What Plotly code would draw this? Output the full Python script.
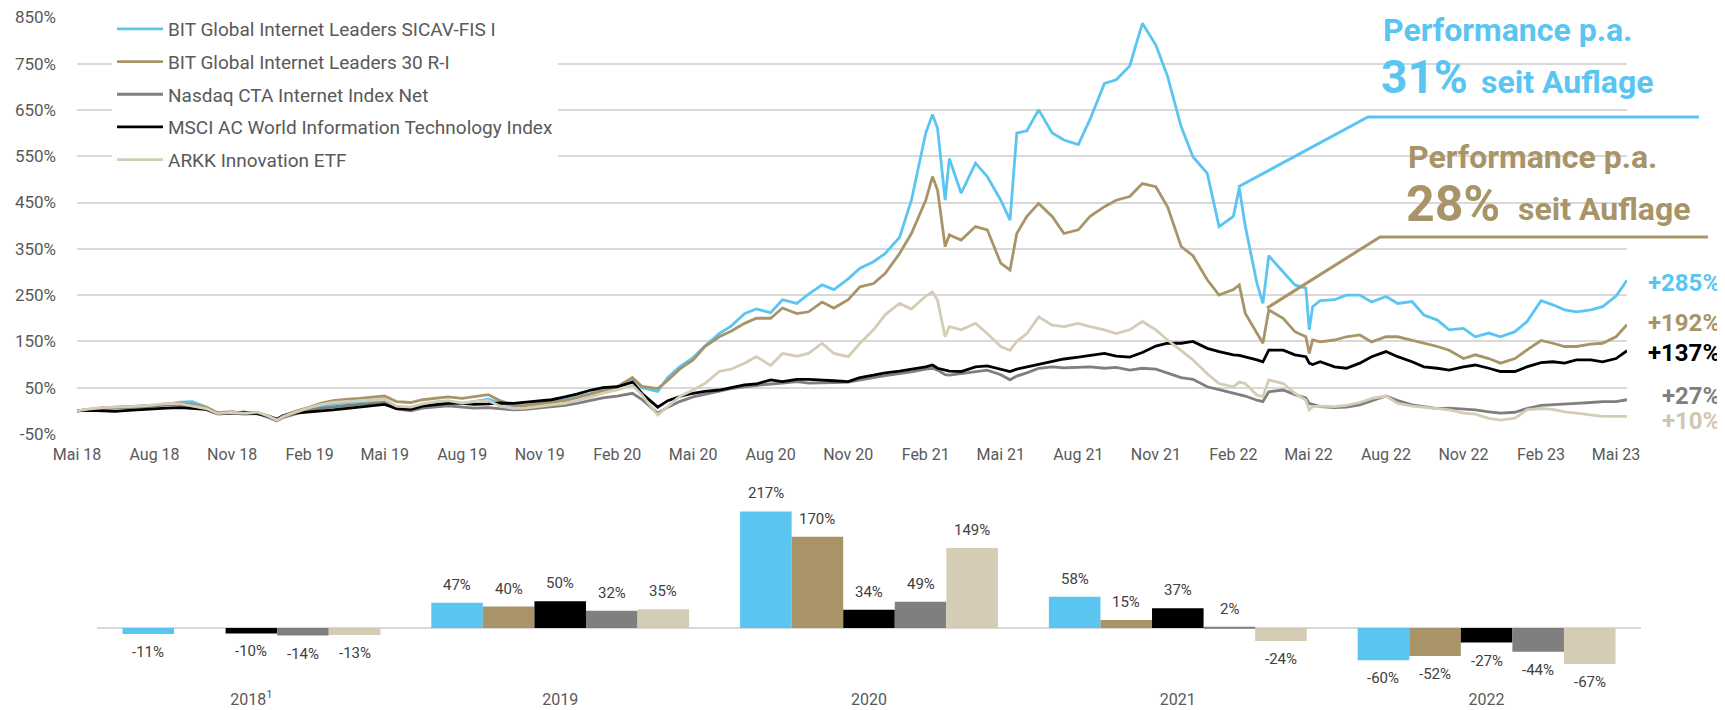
import plotly.graph_objects as go

# the page adds an 8px body margin, so the figure is a bit smaller than the window
OFF = 8
W, H = 1717, 702

# ---- line chart data (cumulative performance in %) ----
dates = [
    "2018-05-01", "2018-05-15", "2018-06-01", "2018-06-15", "2018-07-01", "2018-07-15", "2018-08-01", "2018-08-15",
    "2018-09-01", "2018-09-15", "2018-10-01", "2018-10-15", "2018-11-01", "2018-11-15", "2018-12-01", "2018-12-15",
    "2018-12-24",
    "2019-01-01", "2019-01-15", "2019-02-01", "2019-02-15", "2019-03-01", "2019-03-15", "2019-04-01", "2019-04-15",
    "2019-05-01", "2019-05-15", "2019-06-01", "2019-06-15", "2019-07-01", "2019-07-15", "2019-08-01", "2019-08-15",
    "2019-09-01", "2019-09-15", "2019-10-01", "2019-10-15", "2019-11-01", "2019-11-15", "2019-12-01", "2019-12-15",
    "2020-01-01", "2020-01-15", "2020-02-01", "2020-02-19", "2020-03-01", "2020-03-20", "2020-04-01", "2020-04-15",
    "2020-05-01", "2020-05-15", "2020-06-01", "2020-06-15", "2020-07-01", "2020-07-15", "2020-08-01", "2020-08-15",
    "2020-09-01", "2020-09-15", "2020-10-01", "2020-10-15", "2020-11-01", "2020-11-15", "2020-12-01", "2020-12-15",
    "2021-01-01", "2021-01-15", "2021-02-01", "2021-02-09", "2021-02-15", "2021-02-24", "2021-03-01", "2021-03-15",
    "2021-04-01", "2021-04-15", "2021-05-01", "2021-05-12", "2021-05-20", "2021-06-01", "2021-06-15", "2021-07-01",
    "2021-07-15", "2021-08-01", "2021-08-15", "2021-09-01", "2021-09-15", "2021-10-01", "2021-10-16", "2021-11-01",
    "2021-11-15", "2021-12-01", "2021-12-15",
    "2022-01-01", "2022-01-15", "2022-02-01", "2022-02-08", "2022-02-15", "2022-03-01", "2022-03-08", "2022-03-15",
    "2022-04-01", "2022-04-15", "2022-04-28", "2022-05-02", "2022-05-06", "2022-05-15", "2022-06-01", "2022-06-15",
    "2022-07-01", "2022-07-15", "2022-08-01", "2022-08-15", "2022-09-01", "2022-09-15", "2022-10-01", "2022-10-15",
    "2022-11-01", "2022-11-15", "2022-12-01", "2022-12-15",
    "2023-01-01", "2023-01-15", "2023-02-01", "2023-02-15", "2023-03-01", "2023-03-15", "2023-04-01", "2023-04-15",
    "2023-05-01", "2023-05-14",
]

sicav = [
    0, 3, 6, 7, 8, 10, 12, 14, 19, 20, 8, -5, -3, -6, -4, -12, -20,
    -11, -3, 5, 10, 15, 17, 20, 22, 24, 9, 6, 14, 18, 20, 16, 20, 25, 17, 10, 11, 15, 19, 24, 30,
    38, 45, 52, 70, 50, 42, 72, 95, 115, 140, 167, 183, 210, 220, 212, 240, 232, 252, 272, 262, 285, 308, 322, 340,
    375, 455, 600, 640, 610, 455, 545, 470, 535, 506, 455, 412, 600, 605, 650, 600, 585, 575, 630, 707, 715, 745,
    837, 790, 722, 614, 549,
    513, 398, 420, 482, 400, 275, 232, 335, 300, 272, 265, 175, 225, 238, 240, 250, 250, 235, 247, 232, 236, 207,
    196, 175, 178, 160, 168, 160,
    171, 192, 238, 229, 218, 214, 218, 225, 248, 282,
]

r30 = [
    0, 3, 7, 8, 9, 10, 12, 15, 16, 14, 8, -4, -2, -5, -4, -12, -19,
    -10, -1, 8, 17, 22, 25, 27, 29, 32, 20, 18, 24, 28, 30, 27, 31, 35, 22, 12, 11, 15, 18, 22, 28,
    36, 44, 52, 72, 53, 48, 66, 90, 110, 139, 160, 172, 189, 200, 200, 222, 210, 214, 235, 222, 240, 268, 275, 297,
    340, 383, 455, 506, 477, 355, 380, 369, 398, 391, 319, 304, 383, 420, 448, 420, 383, 391, 420, 441, 455, 463,
    491, 484, 440, 355, 335,
    283, 250, 262, 272, 211, 167, 146, 218, 200, 171, 160, 124, 153, 149, 153, 160, 164, 149, 160, 160, 153, 146,
    139, 131, 113, 121, 113, 103,
    113, 131, 152, 146, 139, 139, 144, 146, 160, 186,
]

nasdaq = [
    0, 3, 5, 6, 6, 8, 10, 13, 13, 9, 4, -7, -5, -7, -6, -15, -22,
    -14, -6, 2, 6, 9, 11, 14, 16, 18, 4, 0, 6, 9, 11, 8, 6, 7, 5, 2, 3, 6, 9, 12, 16,
    22, 28, 32, 38, 25, -5, 8, 20, 30, 36, 42, 48, 52, 55, 58, 60, 63, 60, 60, 61, 62, 67, 72, 76,
    80, 84, 90, 92, 88, 78, 77, 80, 84, 88, 78, 67, 75, 82, 92, 95, 93, 94, 95, 92, 94, 88,
    92, 90, 82, 72, 68,
    52, 46, 38, 36, 32, 23, 20, 41, 45, 35, 28, 16, 14, 9, 7, 8, 13, 22, 32, 22, 13, 9,
    5, 6, 4, 2, -2, -5,
    -3, 5, 12, 13, 15, 16, 18, 20, 20, 24,
]

msci = [
    0, 1, 0, -1, 1, 3, 4, 6, 7, 5, 3, -6, -4, -3, -6, -12, -18,
    -10, -5, -3, 0, 2, 5, 9, 12, 14, 5, 3, 10, 13, 16, 16, 14, 15, 17, 16, 18, 21, 24, 30, 36,
    45, 50, 52, 62, 38, 8, 22, 31, 38, 42, 45, 50, 56, 58, 67, 63, 68, 68, 67, 65, 63, 72, 77, 82,
    86, 90, 95, 99, 92, 88, 86, 85, 95, 97, 90, 85, 90, 95, 100, 107, 112, 116, 120, 124, 118, 116,
    126, 140, 146, 146, 150,
    135, 128, 121, 120, 117, 110, 106, 131, 131, 121, 117, 103, 100, 106, 95, 92, 103, 117, 128, 117, 106, 95,
    92, 88, 95, 99, 92, 85,
    85, 95, 104, 106, 103, 110, 110, 106, 113, 130,
]

arkk = [
    0, 4, 7, 8, 8, 10, 13, 16, 15, 11, 5, -6, -3, -5, -3, -12, -20,
    -12, -3, 7, 14, 18, 20, 22, 24, 25, 10, 8, 15, 20, 22, 17, 20, 22, 10, 5, 6, 9, 13, 16, 22,
    30, 38, 45, 55, 35, -9, 10, 31, 45, 59, 85, 90, 103, 117, 98, 124, 118, 124, 146, 124, 117, 146, 175, 208,
    232, 220, 248, 257, 239, 160, 182, 175, 189, 167, 139, 131, 150, 167, 203, 185, 182, 189, 182, 175, 167, 175,
    193, 175, 153, 131, 110,
    80, 59, 52, 62, 59, 34, 31, 67, 59, 38, 23, 2, 9, 10, 9, 12, 18, 27, 32, 16, 10, 8,
    5, 2, -5, -7, -16, -20,
    -16, 2, 5, 3, -2, -5, -9, -12, -12, -12,
]

tick_dates = ["2018-05-01", "2018-08-01", "2018-11-01", "2019-02-01", "2019-05-01", "2019-08-01", "2019-11-01",
              "2020-02-01", "2020-05-01", "2020-08-01", "2020-11-01", "2021-02-01", "2021-05-01", "2021-08-01",
              "2021-11-01", "2022-02-01", "2022-05-01", "2022-08-01", "2022-11-01", "2023-02-01", "2023-05-01"]
tick_labels = ["Mai 18", "Aug 18", "Nov 18", "Feb 19", "Mai 19", "Aug 19", "Nov 19", "Feb 20", "Mai 20", "Aug 20",
               "Nov 20", "Feb 21", "Mai 21", "Aug 21", "Nov 21", "Feb 22", "Mai 22", "Aug 22", "Nov 22", "Feb 23",
               "Mai 23"]
y_ticks = [-50, 50, 150, 250, 350, 450, 550, 650, 750, 850]

# ---- yearly bars (%) ----
years = ["2018", "2019", "2020", "2021", "2022"]
bar_sicav = [-11, 47, 217, 58, -60]
bar_r30 = [None, 40, 170, 15, -52]
bar_msci = [-10, 50, 34, 37, -27]
bar_nasdaq = [-14, 32, 49, 2, -44]
bar_arkk = [-13, 35, 149, -24, -67]

BLUE, GOLD, GREY, BLACK, BEIGE = "#5BC5F2", "#A89467", "#7F7F7F", "#000000", "#D4CCB4"
FONT = "Roboto"


# page pixel -> paper fraction
def px_x(p):
    return (p - OFF) / W


def px_y(p):
    return 1 - (p - OFF) / H


fig = go.Figure()

lines = [
    ("BIT Global Internet Leaders SICAV-FIS I", sicav, BLUE),
    ("BIT Global Internet Leaders 30 R-I", r30, GOLD),
    ("Nasdaq CTA Internet Index Net", nasdaq, GREY),
    ("MSCI AC World Information Technology Index", msci, BLACK),
    ("ARKK Innovation ETF", arkk, BEIGE),
]
for name, vals, color in lines:
    fig.add_trace(go.Scatter(
        x=dates, y=vals, name=name, mode="lines", legendgroup=name,
        line=dict(color=color, width=2.8), xaxis="x", yaxis="y",
        hovertemplate="%{x|%b %y}: %{y}%<extra>" + name + "</extra>",
    ))

# bars, in the order shown inside each year group
bar_w = 0.167
bars = [(bar_sicav, BLUE), (bar_r30, GOLD), (bar_msci, BLACK), (bar_nasdaq, GREY), (bar_arkk, BEIGE)]
for k, (vals, color) in enumerate(bars):
    xs = [i + (k - 2) * bar_w for i in range(len(years))]
    fig.add_trace(go.Bar(
        x=xs, y=vals, width=bar_w, marker=dict(color=color, line=dict(width=0)),
        xaxis="x2", yaxis="y2", showlegend=False, hoverinfo="skip",
    ))
    for x, v in zip(xs, vals):
        if v is None:
            continue
        fig.add_annotation(
            x=x, y=v, xref="x2", yref="y2", text=f"{v}%", showarrow=False,
            yshift=18 if v >= 0 else -18, font=dict(family=FONT, size=15, color="#404040"),
        )

# leader lines of the performance call-outs
def path(points):
    return "M " + " L ".join(f"{px_x(a):.5f},{px_y(b):.5f}" for a, b in points)


fig.add_shape(type="path", xref="paper", yref="paper", path=path([(1238, 187), (1368, 117), (1699, 117)]),
              line=dict(color=BLUE, width=3))
fig.add_shape(type="path", xref="paper", yref="paper", path=path([(1267, 308), (1380, 237), (1708, 237)]),
              line=dict(color=GOLD, width=3))

callouts = [
    ("Performance p.a.", 1381, 30, 32, BLUE),
    ("31%", 1379, 77, 46, BLUE),
    ("seit Auflage", 1479, 82, 32, BLUE),
    ("Performance p.a.", 1406, 157, 32, GOLD),
    ("28%", 1404, 204, 50, GOLD),
    ("seit Auflage", 1516, 209, 32, GOLD),
]
for text, x, y, size, color in callouts:
    fig.add_annotation(x=px_x(x), y=px_y(y), xref="paper", yref="paper", xanchor="left", yanchor="middle",
                       text=f"<b>{text}</b>", showarrow=False, font=dict(family=FONT, size=size, color=color))

end_labels = [("+285%", 283, BLUE), ("+192%", 323, GOLD), ("+137%", 353, BLACK), ("+27%", 396, GREY),
              ("+10%", 421, "#CFC6AE")]
for text, y, color in end_labels:
    fig.add_annotation(x=px_x(1722), y=px_y(y), xref="paper", yref="paper", xanchor="right", yanchor="middle",
                       text=f"<b>{text}</b>", showarrow=False, font=dict(family=FONT, size=24, color=color))

# 1 % on the line chart is 0.463 px; pad the range by 1 % so the outer gridlines survive rounding
fig.update_layout(
    width=W, height=H, margin=dict(l=0, r=0, t=0, b=0, autoexpand=False),
    paper_bgcolor="white", plot_bgcolor="white", barmode="overlay",
    font=dict(family=FONT, color="#595959"),
    showlegend=True,
    legend=dict(x=px_x(112), y=px_y(10), xanchor="left", yanchor="top", bgcolor="white",
                font=dict(family=FONT, size=19, color="#595959"), tracegroupgap=5, itemwidth=46),
    xaxis=dict(domain=[px_x(77), px_x(1627)], range=["2018-05-01", "2023-05-14"], type="date",
               tickvals=tick_dates, ticktext=tick_labels, showgrid=False, zeroline=False, ticks="",
               tickfont=dict(size=16, color="#595959"), ticklabelstandoff=9, anchor="y", automargin=False,
               ticklabeloverflow="allow"),
    yaxis=dict(domain=[px_y(434.46), px_y(16.84)], range=[-51, 851], tickvals=y_ticks,
               ticktext=[f"{v}%" for v in y_ticks], ticklabeloverflow="allow",
               showgrid=True, gridcolor="#D9D9D9", gridwidth=2, zeroline=False, ticks="",
               tickfont=dict(size=17, color="#595959"), ticklabelstandoff=20, anchor="x", automargin=False),
    xaxis2=dict(domain=[px_x(97), px_x(1641)], range=[-0.5, 4.5], tickvals=list(range(len(years))),
                ticktext=["2018<sup>1</sup>"] + years[1:], automargin=False, ticklabeloverflow="allow",
                showgrid=False, zeroline=False, ticks="", tickfont=dict(size=16, color="#595959"), anchor="y2"),
    yaxis2=dict(domain=[px_y(688), px_y(493.75)], range=[-111.7, 250], showgrid=False, showticklabels=False,
                ticks="", zeroline=True, zerolinecolor="#D9D9D9", zerolinewidth=2, anchor="x2",
                automargin=False),
)

fig.write_html("out.html")
